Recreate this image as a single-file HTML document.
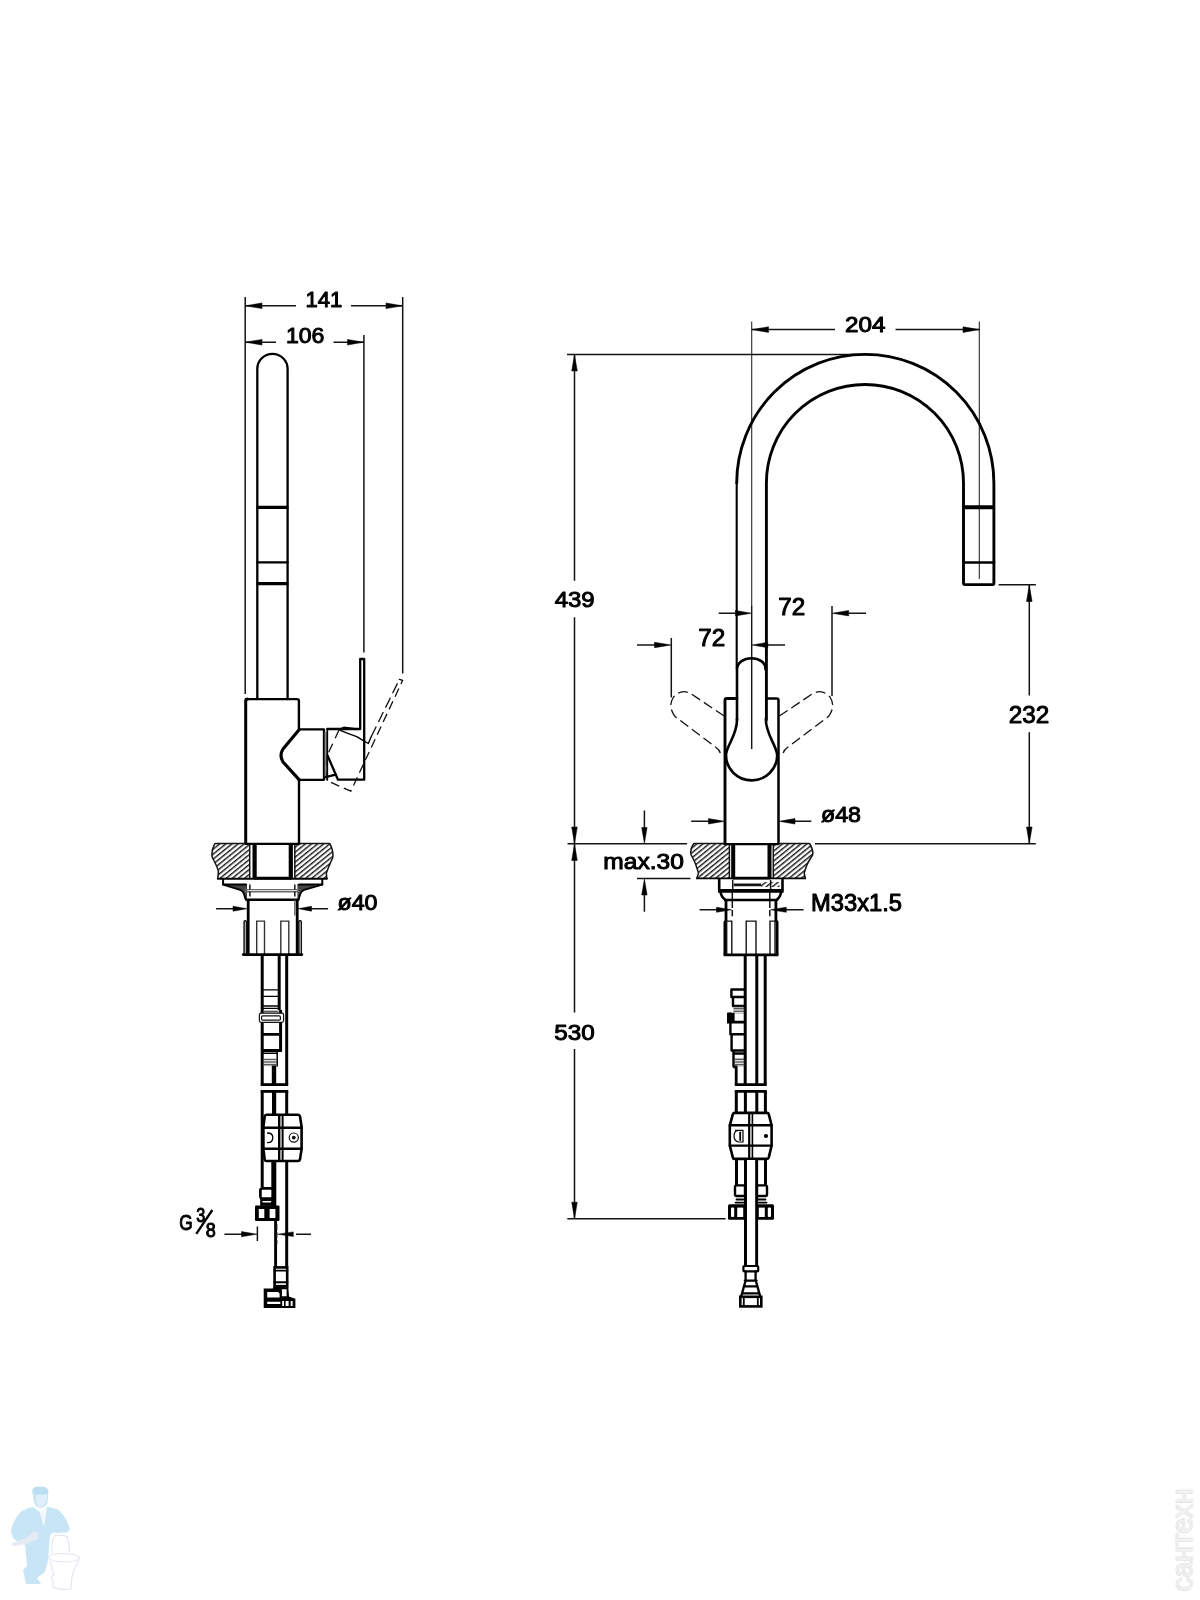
<!DOCTYPE html>
<html>
<head>
<meta charset="utf-8">
<title>Faucet dimension drawing</title>
<style>
html,body{margin:0;padding:0;background:#fff;}
body{width:1200px;height:1600px;overflow:hidden;font-family:"Liberation Sans",sans-serif;}
svg{display:block;will-change:transform;}
.k{fill:none;stroke:#000;stroke-width:2.3;stroke-linejoin:round;stroke-linecap:round;}
.k3{fill:none;stroke:#000;stroke-width:3.2;stroke-linejoin:round;stroke-linecap:butt;}
.k4{fill:none;stroke:#000;stroke-width:4.2;stroke-linejoin:round;stroke-linecap:butt;}
.m{fill:none;stroke:#000;stroke-width:1.7;stroke-linejoin:round;stroke-linecap:round;}
.t{fill:none;stroke:#141414;stroke-width:1.5;stroke-linecap:butt;}
.g{fill:none;stroke:#6a6a6a;stroke-width:1.4;}
.d{fill:none;stroke:#111;stroke-width:1.3;stroke-dasharray:10 5;}
.a{fill:#000;stroke:#000;stroke-width:0.5;stroke-linejoin:miter;}
text{font-family:"Liberation Sans",sans-serif;font-size:22px;fill:#000;stroke:#000;stroke-width:1;stroke-linejoin:round;}
</style>
</head>
<body>
<svg width="1200" height="1600" viewBox="0 0 1200 1600">
<defs>
<pattern id="h" width="12" height="3.85" patternUnits="userSpaceOnUse" patternTransform="rotate(-39 230 860)">
<rect x="0" y="1" width="12" height="1.35" fill="#0d0d0d"/>
</pattern>
<pattern id="gh" width="4" height="1.6" patternUnits="userSpaceOnUse">
<rect x="0" y="0" width="4" height="0.85" fill="#444"/>
</pattern>
</defs>
<rect x="0" y="0" width="1200" height="1600" fill="#fff"/>

<!-- ============ LEFT VIEW ============ -->
<g id="left">
<!-- extension lines -->
<path class="t" d="M245.2,297 V694 M402.7,297 V673.5 M363.9,335 V652.5"/>
<!-- 141 dim -->
<path class="t" d="M245.2,305.8 H296 M351,305.8 H402.7"/>
<path class="a" d="M245.4,305.8 L262,303 L262,308.6 Z M402.5,305.8 L386,303 L386,308.6 Z"/>
<text x="324" y="306.9" text-anchor="middle" textLength="36.8" lengthAdjust="spacingAndGlyphs">141</text>
<!-- 106 dim -->
<path class="t" d="M245.2,342.2 H276 M333.5,342.2 H363.9"/>
<path class="a" d="M245.4,342.2 L262,339.4 L262,345 Z M363.7,342.2 L347.5,339.4 L347.5,345 Z"/>
<text x="305.2" y="343.4" text-anchor="middle" textLength="38.5" lengthAdjust="spacingAndGlyphs">106</text>

<!-- spout side -->
<path class="k" d="M257.3,699 V369 A15.15,15.15 0 0 1 287.6,369 V699"/>
<path class="k3" d="M256.5,507.3 H288.4 M256.5,583.7 H288.4"/>
<path class="k" d="M257.3,562.4 H287.6"/>
<!-- body -->
<path class="k" d="M245.7,843 V701 Q245.7,699.1 247.6,699.1" style="stroke-width:3"/><path class="k" d="M247.6,699.1 H297 Q298.9,699.1 298.9,701 V729.4 M299,780 V843" style="stroke-width:2.4"/>
<!-- hex -->
<path class="k" d="M299.3,729.4 H324 V779.8 H299.3"/>
<path class="k3" d="M299.3,729.4 L283,749 Q279,755.5 283,762 L299.3,779.8" style="stroke-linecap:round"/>
<rect x="324.6" y="732" width="2.2" height="45" fill="#8a8a8a"/>
<path class="m" d="M327.3,729 V780"/>
<!-- handle -->
<path class="k" d="M327.3,729 H360.2 V659 H364.2 V779.7 H338 L327.5,755.5"/>
<path class="k" d="M325.4,777.1 L335.7,774.6"/>
<path class="m" d="M339.2,729.4 L343.8,727.3 L359,729.3 M340.3,730.4 Q349,734 356.7,736.7 Q362,740 368.3,743.5 L371.4,736.3" style="stroke-width:1.4"/>
<!-- dashed rotated handle -->
<path class="d" d="M339.2,729.6 L327.4,755 " style="stroke-dasharray:9.5 6"/>
<path class="d" d="M327,757 V780.6 L350.8,791.2 L402.7,680.3" style="stroke-dasharray:9 5"/>
<path class="d" d="M371.4,736.3 L399.4,679.4" style="stroke-dasharray:11 5;stroke-dashoffset:0"/>
<path class="m" d="M399.4,679.4 L402.7,680.3" style="stroke-width:1.3"/>

<!-- hatch blocks -->
<path d="M214.9,843.4 Q210.5,852 212.5,858 Q217,866 218.4,871.2 L217.8,878.7 H249.7 V843.4 Z" fill="url(#h)"/>
<path d="M294.8,843.4 H329.8 Q334,852 332.6,858 Q328,868 326.3,873.5 L326.9,878.7 H294.8 Z" fill="url(#h)"/>
<path class="t" d="M214.9,843.4 Q210.5,852 212.5,858 Q217,866 218.4,871.2 L217.8,878.7 M329.8,843.4 Q334,852 332.6,858 Q328,868 326.3,873.5 L326.9,878.7 M214.9,843.4 H245.7 M299,843.4 H329.8 M249.7,843.4 V878.7 M294.8,843.4 V878.7"/>
<path class="k" d="M245.7,843.9 H299.3"/>
<path class="k4" d="M254.6,843.4 V878.7 M290.8,843.4 V878.7"/>
<path class="k" d="M217.8,878.8 H326.9" style="stroke-width:2"/>
<path class="k" d="M254.6,878.2 H290.8" style="stroke-width:2.8"/>
<!-- flange -->
<path d="M223.1,884 L240,889.8 Q243.5,891.5 244.1,894.5 L245.25,898.6 L247.2,900 L247.2,884 Z" fill="#444"/>
<path d="M322.3,884 L304.2,889.8 Q301,891.5 300.1,894.5 L298.9,898.6 L297.2,900 L297.2,884 Z" fill="#444"/>
<rect x="247.2" y="880" width="50" height="19" fill="#fff"/>
<path class="k" d="M223.1,879 V884.4 H246 M322.3,879 V884.4 H299" style="stroke-width:2"/>
<path class="k" d="M223.1,884.6 L240,889.8 Q243.5,891.5 244.1,894.5 L245.25,898.6 L247.2,900.3 M322.3,884.6 L304.2,889.8 Q301,891.5 300.1,894.5 L298.9,898.6 L297.2,900.3" style="stroke-width:1.8"/>
<path d="M224.5,880.3 H245.5 V882.8 H224.5 Z M299.5,880.3 H321 V882.8 H299.5 Z" fill="#fff"/>
<path class="g" d="M244.7,889.6 H299.5 M244.7,891.7 H299.5"/>
<path class="k" d="M246.4,899.8 H298.3" style="stroke-width:2.6"/>
<path class="t" d="M249.9,884.6 V898 M294.8,884.6 V898" style="stroke-dasharray:5 2"/>
<path class="g" d="M294.8,900 V915.5"/>
<!-- cylinder -->
<path class="k3" d="M248.2,899.8 V954.6 M297.2,899.8 V954.6" style="stroke-width:2.8"/>
<path class="t" d="M244.1,954 V922 Q244.1,920.7 245.2,920.7 H246.4 M301.3,954 V922 Q301.3,920.7 300.2,920.7 H298.9 M246.4,921 V954 M298.9,921 V954"/>
<path class="g" d="M256.7,954 V921.1 H264.5 V954 M280.8,954 V921.1 H288.8 V954" style="stroke:#333"/>
<path class="k3" d="M243.3,954.6 H301.8" style="stroke-width:2.8;stroke-linecap:round"/>
<!-- ø40 arrows -->
<path class="t" d="M216.1,908.7 H235 M310,908.7 H328.1"/>
<path class="a" d="M247,908.7 L233,906.2 L233,911.2 Z M298.3,908.7 L311.5,906.2 L311.5,911.2 Z"/>
<text x="337.5" y="910.2" textLength="40" lengthAdjust="spacingAndGlyphs" style="font-size:22.6px">ø40</text>
</g>


<!-- ===== left view hoses ===== -->
<g id="lefthose">
<path class="k3" d="M262.2,954.6 V1084.6 M286.7,954.6 V1084.6" style="stroke-width:3"/>
<path class="k3" d="M279.2,954.6 V1010 M280.6,1010 V1051.5" style="stroke-width:3"/>
<path class="m" d="M263,989.8 H278.5 M263,996.3 H278.5 M263,1006 H278.5 M263,1008.4 H278.5" style="stroke-width:1.3"/>
<rect x="263.5" y="1010.2" width="15" height="5" fill="url(#gh)"/>
<rect x="259.4" y="1013.2" width="24.2" height="9.2" rx="1.8" fill="#fff" stroke="#111" stroke-width="1.2"/>
<rect x="261.6" y="1015.8" width="18.8" height="4.4" rx="1.2" fill="#fff" stroke="#111" stroke-width="1.2"/>
<path class="k3" d="M262.2,1034.3 H281.5 M262.2,1050.5 H281.5" style="stroke-width:2.8"/>
<path class="m" d="M263,1053.3 H277 M277.2,1051 V1066" style="stroke-width:1.5"/>
<rect x="263.5" y="1058.5" width="13.2" height="7.7" fill="url(#gh)"/>
<path class="k4" d="M274,1065.5 V1084.6" style="stroke-width:4.4"/>
<path class="k3" d="M260.7,1084.6 H288.2" style="stroke-width:2.8"/>
<!-- second section -->
<path class="k3" d="M260.7,1091.4 H288.2" style="stroke-width:2.8"/>
<path class="k3" d="M262.2,1091 V1187 M286.7,1091 V1267" style="stroke-width:3"/>
<path class="k4" d="M274.1,1091 V1115" style="stroke-width:4.2"/>
<!-- connector block -->
<path d="M266.5,1114.8 H298 Q299.6,1114.8 300,1116.4 L301.6,1127 V1149 L300,1159.4 Q299.6,1161 298,1161 H266.5 Q265,1161 264.7,1159.4 L263.4,1149 V1127 L264.7,1116.4 Q265,1114.8 266.5,1114.8 Z" fill="#fff" stroke="#000" stroke-width="2.6" stroke-linejoin="round"/>
<path class="k" d="M263.4,1127.7 H301.6 M263.4,1148.8 H301.6" style="stroke-width:2.4"/>
<path class="k3" d="M279.2,1114.8 V1161" style="stroke-width:2.4"/>
<path class="k3" d="M282.6,1114.8 V1161" style="stroke-width:2"/>
<path class="m" d="M267.5,1133 Q272.8,1133 272.8,1137.7 Q272.8,1142.6 267.5,1142.6" style="stroke-width:1.3"/>
<circle cx="293.8" cy="1137.6" r="4.6" fill="none" stroke="#111" stroke-width="1.2"/>
<circle cx="293.8" cy="1137.6" r="1.9" fill="#111"/>
<!-- left fitting -->
<path class="k4" d="M273.8,1161 V1206" style="stroke-width:5"/>
<rect x="260.4" y="1188.3" width="12.3" height="10.2" rx="2.2" fill="#fff" stroke="#000" stroke-width="2.7"/>
<rect x="260.2" y="1198.8" width="14" height="7" fill="#000"/>
<rect x="262.5" y="1201" width="8.6" height="1.5" fill="#fff"/>
<rect x="255" y="1205.5" width="24.5" height="15.5" rx="1" fill="#000"/>
<rect x="258.8" y="1209" width="5.5" height="9" fill="#fff"/>
<rect x="269.6" y="1209" width="5.8" height="9" fill="#fff"/>
<!-- hose left edge -->
<path class="k3" d="M275.6,1220 V1267" style="stroke-width:2.9"/>
<!-- bottom fitting -->
<rect x="274.6" y="1267.4" width="12.6" height="18.8" fill="#fff" stroke="#000" stroke-width="2.6"/>
<path class="k" d="M274.3,1270.6 H287.5 M274.3,1282.3 H287.5" style="stroke-width:1.9"/>
<!-- elbow -->
<path d="M263.7,1288.5 H272.6 L273.6,1286.8 H288.3 L289,1296.4 L295.4,1298.8 V1308 H263.7 Z" fill="#000"/>
<path d="M267.2,1292 H278 L279.6,1293.5 V1297.6 H267.2 Z M267.2,1301.8 H280.3 V1304 H267.2 Z M281.9,1289.2 H286.6 V1296.2 H281.9 Z M282.2,1300.9 H284 V1306 H282.2 Z M285.6,1300.9 H288.6 V1306 H285.6 Z M290.7,1300.9 H292.6 V1306 H290.7 Z" fill="#fff"/>
<path d="M276,1289 L281.5,1293" stroke="#000" stroke-width="1.2" fill="none"/>
<!-- G 3/8 -->
<path class="t" d="M224.4,1234.2 H243 M257.4,1226.5 V1241 M296,1234.2 H311"/>
<path class="t" d="M276.6,1224 V1244" style="stroke-dasharray:6 2"/>
<path class="a" d="M257,1234.2 L241.5,1231.6 L241.5,1236.8 Z M277.5,1234.2 L293.3,1231.9 L293.3,1236.5 Z"/>
<text x="179.2" y="1230.2" style="font-size:22.5px" textLength="13.4" lengthAdjust="spacingAndGlyphs">G</text>
<text x="196.3" y="1222" style="font-size:19.5px" textLength="9" lengthAdjust="spacingAndGlyphs">3</text>
<text x="205.8" y="1236.6" style="font-size:19.5px" textLength="10" lengthAdjust="spacingAndGlyphs">8</text>
<path d="M212.3,1210 L196.3,1233.8" stroke="#000" stroke-width="2.3" fill="none"/>
</g>


<!-- ============ RIGHT VIEW ============ -->
<g id="right">
<!-- dims -->
<path class="t" d="M751.7,321.5 V606.5 M979.3,321.5 V579" style="stroke-width:1.1;stroke:#2a2a2a"/><path class="t" d="M751.7,606 V749" style="stroke-width:1.4"/>
<path class="t" d="M751.7,329.6 H835 M895.5,329.6 H979.7"/>
<path class="a" d="M751.9,329.6 L768.5,326.8 L768.5,332.4 Z M979.5,329.6 L963,326.8 L963,332.4 Z"/>
<text x="865.3" y="332.4" text-anchor="middle" textLength="40.5" lengthAdjust="spacingAndGlyphs">204</text>
<path class="t" d="M567,354.4 H873"/>
<path class="t" d="M574.5,354.4 V580.7 M574.5,617.3 V1012.5 M574.5,1049 V1218.8"/>
<path class="a" d="M574.5,354.6 L571.7,371 L577.3,371 Z M574.5,843.5 L571.7,827 L577.3,827 Z M574.5,844 L571.7,860.5 L577.3,860.5 Z M574.5,1218.6 L571.7,1202.2 L577.3,1202.2 Z"/>
<text x="574.7" y="607.0" text-anchor="middle" textLength="40" lengthAdjust="spacingAndGlyphs" style="font-size:22.6px">439</text>
<text x="574.6" y="1039.8" text-anchor="middle" textLength="40.5" lengthAdjust="spacingAndGlyphs" style="font-size:22.6px">530</text>
<path class="t" d="M567.5,843.75 H687 M815,843.75 H1035.8 M567.3,1218.8 H725.6 M998.7,584.8 H1035.9"/>
<path class="t" d="M1029.3,584.8 V695.5 M1029.3,732.3 V843.7"/>
<path class="a" d="M1029.3,585 L1026.5,601.5 L1032.1,601.5 Z M1029.3,843.5 L1026.5,827 L1032.1,827 Z"/>
<text x="1029" y="723.3" text-anchor="middle" textLength="40.5" lengthAdjust="spacingAndGlyphs" style="font-size:23.8px">232</text>
<!-- 72 upper -->
<path class="t" d="M718.7,613.2 H737 M832,606 V696 M846,613.2 H866"/>
<path class="a" d="M751.4,613.2 L735.5,610.5 L735.5,615.9 Z M832.2,613.2 L848.7,610.5 L848.7,615.9 Z"/>
<text x="778.3" y="614.8" textLength="27" lengthAdjust="spacingAndGlyphs" style="font-size:23.4px">72</text>
<!-- 72 lower -->
<path class="t" d="M637,645 H656 M671.3,638 V697.5 M766,645 H785"/>
<path class="a" d="M671.1,645 L654.5,642.3 L654.5,647.7 Z M752,645 L767.8,642.3 L767.8,647.7 Z"/>
<text x="698.3" y="646.1" textLength="27" lengthAdjust="spacingAndGlyphs" style="font-size:23.4px">72</text>

<!-- spout -->
<path class="k" d="M736.7,483 A128.45,128.45 0 0 1 993.9,483 V583 Q993.9,584.6 992.4,584.6 H965 Q963.5,584.6 963.5,583 V483 A98.55,98.55 0 0 0 766.4,483 V720" style="stroke-width:2.9"/>
<path class="k" d="M736.7,483 V668" style="stroke-width:2.1"/>
<path class="k4" d="M962.5,507.2 H995" style="stroke-width:4"/>
<path class="k" d="M963.5,562.6 H994" style="stroke-width:2.5"/>
<!-- lever -->
<path class="k" d="M737,720 V669.5 C737,654.5 766,654.5 765.6,669.5" style="stroke-width:2.6"/>
<path class="k" d="M737,719 C737.5,735 727,744 726,755 A25.6,25.4 0 0 0 777.2,755 C776,744 766,735 765.8,719" style="stroke-width:2.6"/>
<!-- body -->
<path class="k" d="M737,698.5 H726.8 Q725,698.5 725,700.3 V843.5" style="stroke-width:2.9"/><path class="k" d="M766.5,698.5 H776.7 Q778.5,698.5 778.5,700.3 V843.5" style="stroke-width:2.5"/>
<!-- dashed handles -->
<path class="d" d="M779.3,716 L812.5,693.75 Q822,688.3 830,697 Q836,706.5 828.5,716.5 L788,747 Q784,749.8 783.2,753" style="stroke-dasharray:10 4.5"/>
<path class="d" d="M724.2,716 L691,693.75 Q681.5,688.3 673.5,697 Q667.5,706.5 675,716.5 L715.5,747 Q719.5,749.8 720.3,753" style="stroke-dasharray:10 4.5"/>
<!-- ø48 -->
<path class="t" d="M691.2,821.3 H710 M794,821.3 H811.3"/>
<path class="a" d="M724.6,821.3 L708.5,818.6 L708.5,824 Z M778.9,821.3 L795,818.6 L795,824 Z"/>
<text x="821" y="822.1" textLength="40" lengthAdjust="spacingAndGlyphs" style="font-size:22.6px">ø48</text>
<!-- max.30 -->
<path class="t" d="M644.4,810.5 V830 M644.4,895 V911.7 M637,878.6 H690.5"/>
<path class="a" d="M644.4,843.5 L641.7,827.5 L647.1,827.5 Z M644.4,878.9 L641.7,895 L647.1,895 Z"/>
<text x="603.3" y="869" textLength="80.5" lengthAdjust="spacingAndGlyphs" style="font-size:22.6px">max.30</text>

<!-- hatch -->
<path d="M693.7,843.5 Q689.5,850 691.2,855 Q695,862 696.4,866.4 L698.5,873 L696.9,878.3 H729.4 V843.5 Z" fill="url(#h)"/>
<path d="M773.3,843.5 H809.6 Q813.6,850 812.6,855 Q808,862 806.3,866.4 L804.2,873 L805.3,878.3 H773.3 Z" fill="url(#h)"/>
<path class="t" d="M693.7,843.5 Q689.5,850 691.2,855 Q695,862 696.4,866.4 L698.5,873 L696.9,878.3 M809.6,843.5 Q813.6,850 812.6,855 Q808,862 806.3,866.4 L804.2,873 L805.3,878.3 M693.7,843.5 H724.5 M778.2,843.5 H809.6 M729.4,843.5 V878.3 M773.3,843.5 V878.3"/>
<path class="k" d="M724.5,844.2 H778.2"/>
<path class="k4" d="M733.2,843.6 V878.4 M769.5,843.6 V878.4" style="stroke-width:4"/>
<path class="k" d="M696.9,878.4 H805.3" style="stroke-width:1.8"/>
<path class="k" d="M733.2,878.2 H769.5" style="stroke-width:2.8"/>
<!-- flange -->
<path class="k" d="M719.2,879 V889.5 M782.5,879 V889.5" style="stroke-width:2.6"/>
<path class="t" d="M733.8,884.3 H761 M733.8,885.6 H761 M732.7,880 V889 M770.6,880 V889"/>
<rect x="761" y="882" width="18.5" height="5" fill="url(#h)"/>
<path class="k4" d="M718,890.9 H783.7" style="stroke-width:3.6"/>
<path class="k" d="M720.7,892.4 Q721.2,897 725.6,900 M781,892.4 Q780.5,897 776.5,900" style="stroke-width:2.6"/>
<path class="k" d="M725.1,900 H777.1" style="stroke-width:2.6"/>
<!-- cylinder -->
<path class="k3" d="M726,900 V920.6 L724.9,922 V955 M775.9,900 V920.6 L777.1,922 V955" style="stroke-width:2.8"/>
<path class="t" d="M732.3,892 V916.3 M769.8,892 V916.3" style="stroke-dasharray:7 2"/>
<path class="t" d="M726.7,954 V921.1 H731.8 V954 M746.2,954 V921.1 H756 V954 M770,954 V921.1 H775 V954" style="stroke-width:1.4"/>
<path class="k3" d="M723.6,954.8 H778.4" style="stroke-width:2.8"/>
<!-- M33 arrows -->
<path class="t" d="M699.6,909.75 H718 M785,909.75 H803.6"/>
<path class="a" d="M731.5,909.75 L716.5,907.2 L716.5,912.3 Z M770.6,909.75 L786.3,907.2 L786.3,912.3 Z"/>
<text x="811" y="910.6" textLength="91" lengthAdjust="spacingAndGlyphs" style="font-size:23px">M33x1.5</text>
</g>


<!-- ===== right view hoses ===== -->
<g id="righthose">
<path class="k3" d="M745.2,954.8 V1084.6 M756.8,954.8 V1084.6 M765.2,954.8 V1084.6" style="stroke-width:3"/>
<!-- side attachment -->
<path class="k" d="M745,989.5 H731.4 V997 H745 M733,997 V1006 M733.2,1006 H745" style="stroke-width:2.4"/>
<rect x="733.5" y="1006.5" width="11" height="7" fill="url(#gh)"/>
<path d="M727,1012.8 L731,1012.2 L733.5,1014 V1022.5 L731,1023.6 L727,1023.4 Z" fill="#000"/>
<path class="k" d="M733.4,1013.8 V1022 H745 M745,1022.4 H730.4 V1034.3 H745 M731.6,1034.3 V1050.5 H745 M733.5,1050.5 V1066.5 M734,1053.5 H745" style="stroke-width:2.4"/>
<rect x="735" y="1058" width="9.5" height="8.5" fill="url(#gh)"/>
<path class="k3" d="M733.2,1066.8 H736.2 V1084.6" style="stroke-width:2.8"/>
<path class="k3" d="M734.8,1084.6 H766.7" style="stroke-width:2.8"/>
<!-- second section -->
<path class="k3" d="M734.8,1091.4 H766.7" style="stroke-width:2.8"/>
<path class="k3" d="M736.3,1091 V1113 M745.4,1091 V1113 M756.8,1091 V1113 M765.4,1091 V1113" style="stroke-width:3"/>
<!-- block -->
<path d="M734.5,1112.9 H767 Q768.4,1112.9 768.8,1114.4 L771.6,1125.3 V1145.6 L768.8,1157.4 Q768.4,1158.9 767,1158.9 H734.5 Q733.1,1158.9 732.8,1157.4 L729.8,1145.6 V1125.3 L732.8,1114.4 Q733.1,1112.9 734.5,1112.9 Z" fill="#fff" stroke="#000" stroke-width="2.6" stroke-linejoin="round"/>
<path class="k" d="M729.8,1125.3 H771.6 M729.8,1145.6 H771.6" style="stroke-width:2.4"/>
<path class="k3" d="M749.2,1112.9 V1158.9" style="stroke-width:2.2"/>
<path class="k3" d="M752.4,1112.9 V1158.9" style="stroke-width:1.6"/>
<path class="m" d="M735.5,1130.3 H743 V1142 H738.5 Q734,1141 734,1136 Q734,1131 738,1130.3" style="stroke-width:1.2"/>
<path class="m" d="M740.2,1132.5 V1140" style="stroke-width:1.8"/>
<circle cx="766" cy="1136" r="2.1" fill="#000"/>
<!-- below block -->
<path class="k3" d="M736.5,1158.9 V1185 M745.5,1158.9 V1266 M756.6,1158.9 V1266 M765.5,1158.9 V1185" style="stroke-width:3"/>
<!-- left fitting -->
<rect x="735" y="1185.4" width="10" height="10.6" rx="1.5" fill="#fff" stroke="#000" stroke-width="2.4"/>
<path class="k" d="M736.5,1199.5 H745 M735.5,1202.6 H745" style="stroke-width:1.8"/>
<path d="M729.5,1204.2 Q728,1204.2 728,1205.7 V1218.3 Q728,1219.8 729.5,1219.8 H745 V1204.2 Z" fill="#000"/>
<rect x="731" y="1207.6" width="3.2" height="9.4" rx="1" fill="#fff"/>
<rect x="737.2" y="1207.6" width="6" height="9.4" fill="#fff"/>
<!-- right fitting -->
<rect x="757" y="1185.4" width="10" height="10.6" rx="1.5" fill="#fff" stroke="#000" stroke-width="2.4"/>
<path class="k" d="M757,1199.5 H765.5 M757,1202.6 H766.5" style="stroke-width:1.8"/>
<path d="M772.5,1204.2 Q774,1204.2 774,1205.7 V1218.3 Q774,1219.8 772.5,1219.8 H757 V1204.2 Z" fill="#000"/>
<rect x="767.8" y="1207.6" width="3.2" height="9.4" rx="1" fill="#fff"/>
<rect x="758.8" y="1207.6" width="6" height="9.4" fill="#fff"/>
<!-- center hose cover -->
<rect x="747" y="1160" width="8.1" height="105" fill="#fff"/>
<!-- bottom fitting -->
<rect x="743.4" y="1266" width="14.8" height="5.4" rx="1" fill="#fff" stroke="#000" stroke-width="2.2"/>
<path class="k" d="M745.6,1271.4 V1280 M755.6,1271.4 V1280 M744.8,1280.6 H756.6 M745.6,1280.6 L741.2,1296.4 M755.8,1280.6 L760.2,1296.4 M744,1286.3 H757.6 M742.2,1293.3 H759.2" style="stroke-width:2.3"/>
<rect x="740.3" y="1296.8" width="21" height="9.6" fill="#fff" stroke="#000" stroke-width="2.6"/>
<path class="k" d="M743.8,1297 V1306 M757.8,1297 V1306" style="stroke-width:1.8"/>
</g>

<!-- ===== watermark man ===== -->
<g id="man" opacity="0.9">
<g fill="#c3e3f4" stroke="none">
<path d="M32,1490 Q33,1486 40,1486.5 Q48,1486 48.5,1491 L48.3,1494 L47.5,1503 Q45,1508 40,1508 Q34.5,1507 33.5,1500 Z"/>
<path d="M33,1507 Q22,1509 18,1515 Q12,1524 11,1530 Q11.5,1538 17,1541 L25,1545 L27,1566 L23,1570 L26,1584 L41,1584 L37,1578 L45,1572 L48,1560 L50,1536 Q52,1531 56,1533 L67,1532.5 L70,1529 Q66,1516 58,1509.5 L47,1506.5 L44,1526 L40,1512 Z"/>
<path d="M12,1543 Q11,1546 15,1546 L27,1543.5 L38,1539 L39,1533 L33,1531.5 L27,1538 Z" fill="#e3e8f4"/>
</g>
<path d="M33,1490 Q34,1486.5 40,1487 Q47.5,1486.5 48,1491 L47.5,1494.5 L35,1494.5 Z" fill="#b5dbf0"/>
<path d="M36,1495 Q35,1505 40,1507.5 Q46,1507 47.3,1496 L47,1494.5 Z" fill="#dcedf8"/>
<path d="M40,1513 L44,1526 L46,1512 L43,1510 Z" fill="#f2f7fb"/>
<g fill="none" stroke="#dfe2ee" stroke-width="1.1">
<path d="M53.5,1537 Q51.5,1544 52,1553 M54,1536 Q60,1534 67,1536.5 Q69.5,1544 69.5,1552"/>
<path d="M48.5,1557 Q50,1553.5 64,1553.5 Q79,1554 79.5,1558 Q79,1561.5 64,1562 Q49,1561.5 48.5,1557 Z"/>
<path d="M50,1561 Q52,1570 54,1574 Q50,1578 53,1581 L53,1587 Q60,1590.5 71,1589 L71.5,1580 Q73,1570 79,1560"/>
</g>
</g>
<!-- right vertical watermark -->
<g transform="translate(1191.5,1592) rotate(-90)" opacity="0.6">
<text x="0" y="0" style="font-size:29px;fill:#fdfdfd;stroke:#cfcfcf;stroke-width:1" textLength="103" lengthAdjust="spacingAndGlyphs">сантехн</text>
<text x="1" y="1.2" style="font-size:29px;fill:none;stroke:#e2e2e2;stroke-width:0.8" textLength="103" lengthAdjust="spacingAndGlyphs">сантехн</text>
</g>
</svg>
</body>
</html>
